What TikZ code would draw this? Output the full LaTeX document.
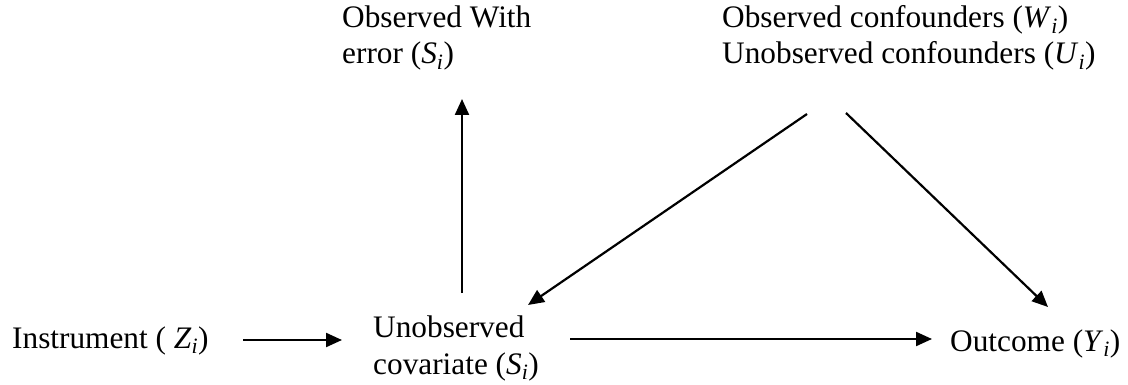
\documentclass[tikz,border=0pt]{standalone}
\usepackage{fontspec}
\setmainfont{Liberation Serif}
\usetikzlibrary{arrows.meta}
\newcommand{\isub}[1]{\textsubscript{\textit{#1}}}
\begin{document}
\begin{tikzpicture}[x=1pt,y=-1pt,
  lbl/.style={inner sep=0pt, anchor=base west, align=left, font=\fontsize{31.3}{36.5}\selectfont},
  arr/.style={line width=2.2pt, -{Triangle[length=16pt,width=14pt]}}]
\useasboundingbox (0,0) rectangle (1128,385);
\node[lbl] (inst) at (12,348) {Instrument ( \textit{Z}\isub{i})};
\node[lbl] (cov) at (373,374) {Unobserved\\covariate (\textit{S}\isub{i})};
\node[lbl] (out) at (950,351) {Outcome (\textit{Y}\isub{i})};
\node[lbl] (obs) at (342,64) {Observed With\\error (\textit{S}\isub{i})};
\node[lbl] (conf) at (722,64) {Observed confounders (\textit{W}\isub{i})\\Unobserved confounders (\textit{U}\isub{i})};
\coordinate (a1s) at (243,340);
\coordinate (a1e) at (342,340);
\coordinate (a2s) at (462,293);
\coordinate (a2e) at (462,99);
\coordinate (a3s) at (807,114);
\coordinate (a3e) at (528,305);
\coordinate (a4s) at (846,113);
\coordinate (a4e) at (1048,307);
\coordinate (a5s) at (570,339);
\coordinate (a5e) at (932,339);
\draw[arr] (a1s) -- (a1e);
\draw[arr] (a2s) -- (a2e);
\draw[arr] (a3s) -- (a3e);
\draw[arr] (a4s) -- (a4e);
\draw[arr] (a5s) -- (a5e);
\end{tikzpicture}
\end{document}
